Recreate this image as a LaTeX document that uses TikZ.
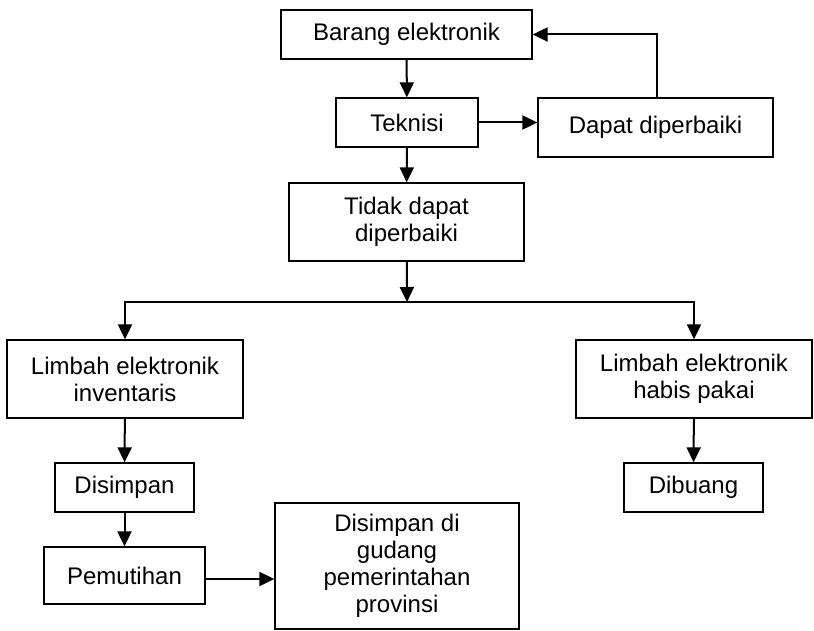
\documentclass[tikz,border=0pt]{standalone}
\usepackage{fontspec}
\setmainfont{Liberation Sans}
\setsansfont{Liberation Sans}
\usetikzlibrary{arrows.meta, positioning, calc}
\definecolor{cblack}{HTML}{000000}
\tikzset{
  every picture/.style={font=\sffamily, line width=1.3pt},
  box/.style={draw=cblack, fill=white, align=center, inner sep=4pt, font=\fontsize{24}{27}\selectfont},
  arrow/.style={-{Triangle[length=15pt, width=14pt]}, draw=cblack, line width=2pt},
  plain/.style={draw=cblack, line width=2pt},
}

\begin{document}
\begin{tikzpicture}[x=1pt, y=-1pt,
  s/.style={box, minimum width=#1},
  t/.style={box, minimum width=#1, minimum height=49pt}]
  \useasboundingbox (0,0) rectangle (814,631);
  \node[t=251] (barang) at (406.5,34.5) {Barang elektronik};
  \node[t=142] (teknisi) at (407,122.5) {Teknisi};
  \node[s=235, minimum height=59pt] (dapat) at (655.5,127.5) {Dapat diperbaiki};
  \node[s=235, minimum height=78pt] (tidak) at (406.5,222) {Tidak dapat\\diperbaiki};
  \node[s=236, minimum height=78pt] (inventaris) at (125,379) {Limbah elektronik\\inventaris};
  \node[s=236, minimum height=78pt] (habis) at (694,379) {Limbah elektronik\\habis pakai};
  \node[t=139] (disimpan) at (124.5,487.5) {Disimpan};
  \node[t=139] (dibuang) at (693.5,487.5) {Dibuang};
  \node[s=161, minimum height=57pt] (pemutihan) at (124.5,575.5) {Pemutihan};
  \node[s=244, minimum height=126pt] (gudang) at (397,566) {Disimpan di\\gudang\\pemerintahan\\provinsi};
  \coordinate (cabang) at (407,302);
  \draw[arrow] (barang) -- (teknisi); \draw[arrow] (teknisi) -- (tidak);
  \draw[arrow] (teknisi.east) -- (teknisi.east -| dapat.west);
  \draw[arrow] ([xshift=1.5pt]dapat.north) |- (barang.east);
  \draw[arrow] (tidak) -- (cabang);
  \draw[arrow] (cabang) -| (inventaris.north); \draw[arrow] (cabang) -| (habis.north);
  \draw[arrow] (inventaris) -- (disimpan); \draw[arrow] (disimpan) -- (pemutihan);
  \draw[arrow] ([yshift=-3.5pt]pemutihan.east) -- ([yshift=-3.5pt]pemutihan.east -| gudang.west);
  \draw[arrow] (habis) -- (dibuang);
\end{tikzpicture}
\end{document}
